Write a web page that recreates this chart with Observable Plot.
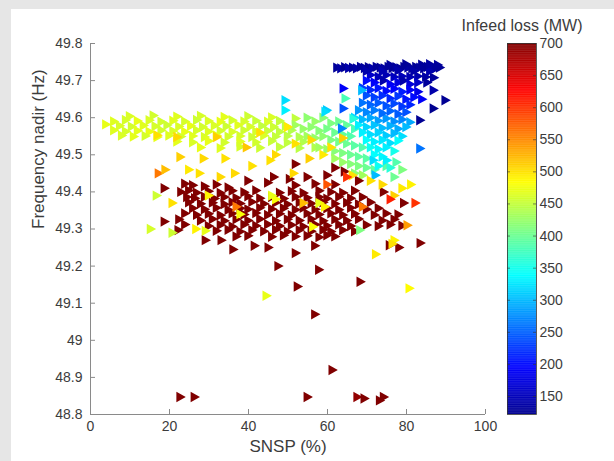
<!DOCTYPE html>
<html><head><meta charset="utf-8">
<script src="https://cdn.jsdelivr.net/npm/d3@7"></script>
<script src="https://cdn.jsdelivr.net/npm/@observablehq/plot@0.6"></script>
<style>
html,body{margin:0;padding:0;background:#e6e6e6;}
#wrap{position:relative;width:614px;height:461px;overflow:hidden;background:#e6e6e6;}
#panel{position:absolute;left:11px;top:9px;right:0;bottom:0;background:#fff;}
#wrap svg{position:absolute;left:0;top:0;}
</style></head><body><div id="wrap"><div id="panel"></div></div>
<script>
// [SNSP %, frequency nadir Hz, infeed loss MW]
const blueBand = [[62.5,49.735,130],[63.5,49.733,135],[64.5,49.736,128],[65.5,49.734,140],[66.5,49.735,130],[67.5,49.733,135],[68.5,49.737,128],[69.5,49.734,132],[70.5,49.736,125],[71.5,49.733,138],[72.5,49.737,130],[73.5,49.735,128],[74.5,49.733,135],[75.5,49.737,130],[76.5,49.734,127],[77.5,49.736,133],[78.5,49.733,130],[79.5,49.737,128],[80.5,49.735,135],[81.5,49.733,130],[82.5,49.737,127],[83.5,49.735,132],[84.5,49.733,130],[85.5,49.737,128],[86.5,49.735,135],[87.5,49.733,130],[88.5,49.735,128],[70,49.726,140],[74,49.725,145],[78,49.727,140],[82,49.726,138],[86,49.725,142],[84,49.743,130],[80,49.744,128],[76,49.742,130],[86,49.744,132],[88,49.742,130]];
const blueCluster = [[71,49.715,160],[73,49.71,150],[75,49.715,145],[77,49.71,155],[79,49.712,150],[81,49.71,145],[83,49.712,140],[85,49.71,135],[87,49.708,130],[70,49.70,200],[72,49.695,190],[74.3,49.70,140],[76,49.69,185],[78,49.695,175],[79.4,49.70,140],[81,49.69,170],[83,49.695,160],[85.3,49.695,130],[69,49.68,230],[71,49.675,215],[73,49.68,205],[75,49.672,200],[77,49.678,195],[79,49.67,210],[81,49.675,190],[83,49.67,180],[86.9,49.674,140],[70,49.66,240],[72,49.655,230],[74,49.66,220],[76,49.652,215],[78,49.658,225],[80,49.65,205],[82,49.655,200],[84,49.65,190],[89.9,49.647,125],[69,49.64,260],[71,49.635,250],[73,49.64,245],[75,49.632,240],[77,49.638,235],[79,49.63,225],[81,49.635,215],[86.9,49.625,120],[68,49.62,280],[70,49.615,270],[72,49.62,265],[74,49.612,255],[76,49.618,250],[78,49.61,245],[80,49.615,240],[83.5,49.593,125],[64.1,49.679,190],[64.1,49.625,240],[63.7,49.571,270],[64.6,49.652,380],[59.9,49.62,310],[68.8,49.674,300],[66.6,49.597,360],[49.4,49.647,320],[49.4,49.62,330],[59.5,49.616,320]];
const cyanCluster = [[67,49.60,320],[69,49.595,300],[71,49.60,290],[73,49.592,285],[75,49.598,280],[77,49.59,275],[79,49.595,270],[81,49.588,290],[68,49.58,330],[70,49.575,315],[72,49.58,305],[74,49.572,300],[76,49.578,295],[78,49.57,290],[80,49.575,300],[69,49.56,330],[71,49.555,320],[73,49.56,315],[75,49.552,310],[77,49.558,300],[79,49.55,320],[70,49.54,340],[72,49.535,330],[74,49.54,325],[76,49.532,320],[78,49.538,340],[71,49.52,345],[73,49.515,335],[75,49.52,330],[77,49.51,350],[83.5,49.517,260],[72,49.50,340],[74,49.495,335],[71.7,49.485,320],[75.1,49.485,330],[73,49.47,345],[76,49.465,360],[72.2,49.445,300]];
const greenBand = [[55,49.60,420],[57,49.59,425],[59,49.60,415],[61,49.585,410],[63,49.59,400],[65,49.58,395],[67,49.57,380],[52,49.58,430],[54,49.57,425],[56,49.575,420],[58,49.565,415],[60,49.57,405],[62,49.56,400],[64,49.555,395],[66,49.55,385],[55,49.55,430],[57,49.545,425],[59,49.55,420],[61,49.54,410],[63,49.535,405],[65,49.53,400],[67,49.525,390],[69,49.52,385],[58,49.52,430],[60,49.515,425],[62,49.51,415],[64,49.505,410],[66,49.50,400],[68,49.495,395],[70,49.49,390],[62,49.49,430],[64,49.48,425],[66,49.475,415],[68,49.47,410],[70,49.465,400],[72,49.46,395],[67,49.45,420],[69,49.445,430],[77,49.44,400],[79,49.46,410],[75,49.47,390],[77.5,49.48,385]];
const yellowBand = [[10,49.604,462],[16,49.606,458],[22,49.603,465],[28,49.605,460],[34,49.602,468],[40,49.604,455],[46,49.601,462],[52,49.598,448],[6,49.59,465],[9,49.594,460],[12,49.591,470],[15,49.593,462],[18,49.589,458],[21,49.592,466],[24,49.59,460],[27,49.594,455],[30,49.591,463],[33,49.589,470],[36,49.593,458],[39,49.59,460],[42,49.592,452],[45,49.589,462],[48,49.591,450],[4,49.582,470],[7.5,49.578,462],[10.5,49.576,458],[13.5,49.579,466],[16.5,49.577,460],[19.5,49.58,455],[22.5,49.576,463],[25.5,49.578,470],[28.5,49.575,458],[31.5,49.579,462],[34.5,49.577,455],[37.5,49.58,466],[40.5,49.576,460],[43.5,49.578,448],[46.5,49.575,455],[49.5,49.578,445],[6,49.566,465],[9,49.563,460],[12,49.565,468],[15,49.562,470],[18,49.566,458],[21,49.564,462],[24,49.562,470],[27,49.566,460],[30,49.563,465],[33,49.565,458],[36,49.562,462],[39,49.566,455],[42,49.563,460],[45,49.565,452],[48,49.562,448],[51,49.566,440],[8,49.552,462],[11,49.549,468],[14,49.551,460],[17,49.548,470],[20,49.552,465],[23,49.549,458],[26,49.551,466],[29,49.548,462],[32,49.552,470],[35,49.549,458],[38,49.551,460],[41,49.548,455],[44,49.552,462],[47,49.549,450],[50,49.551,445],[53,49.548,440],[22,49.536,468],[26,49.534,462],[30,49.537,470],[34,49.533,458],[38,49.536,465],[42,49.534,458],[46,49.537,452],[50,49.533,448],[54,49.535,440],[28,49.52,470],[33,49.518,465],[38,49.522,460],[43,49.519,455],[48,49.521,450],[53,49.518,445],[57,49.52,440]];
const redCluster = [[24,49.422,700],[26,49.418,700],[29,49.415,700],[32,49.42,700],[35,49.412,700],[45,49.425,700],[52,49.418,700],[57,49.422,700],[62,49.42,700],[23,49.40,700],[25,49.404,700],[27,49.398,700],[30,49.402,700],[33,49.397,700],[36,49.403,700],[39,49.399,700],[42,49.404,700],[48,49.398,700],[51,49.402,700],[54,49.397,700],[58,49.403,700],[61,49.4,700],[64,49.398,700],[67,49.403,700],[74.3,49.40,700],[24.5,49.386,700],[26.5,49.383,700],[29,49.387,700],[31.5,49.382,700],[34,49.386,700],[37,49.384,700],[40,49.388,700],[43,49.383,700],[46,49.386,700],[49,49.382,700],[52,49.387,700],[55,49.384,700],[58,49.386,700],[60,49.382,700],[63,49.387,700],[66,49.383,700],[69,49.386,700],[25,49.372,700],[28,49.368,700],[31,49.371,700],[34,49.367,700],[36,49.372,700],[38,49.369,700],[41,49.373,700],[44,49.368,700],[47,49.371,700],[50,49.367,700],[53,49.372,700],[56,49.369,700],[59,49.372,700],[62,49.368,700],[65,49.371,700],[68,49.367,700],[71,49.372,700],[79.4,49.37,700],[26,49.356,700],[29,49.353,700],[32,49.357,700],[35,49.352,700],[38,49.356,700],[40,49.353,700],[43,49.357,700],[46,49.354,700],[49,49.356,700],[52,49.352,700],[54,49.357,700],[57,49.353,700],[60,49.356,700],[63,49.352,700],[66,49.357,700],[70,49.353,700],[73,49.356,700],[24,49.342,700],[27,49.338,700],[30,49.341,700],[33,49.337,700],[36,49.342,700],[39,49.339,700],[42,49.343,700],[45,49.338,700],[48,49.341,700],[51,49.337,700],[55,49.342,700],[58,49.339,700],[61,49.342,700],[64,49.338,700],[67,49.341,700],[72,49.338,700],[75,49.342,700],[78,49.339,700],[22.5,49.326,700],[28,49.323,700],[31,49.327,700],[34,49.322,700],[37,49.326,700],[40,49.323,700],[43,49.327,700],[47,49.322,700],[50,49.326,700],[53,49.323,700],[56,49.327,700],[59,49.322,700],[62,49.326,700],[65,49.323,700],[68,49.327,700],[74,49.323,700],[77,49.326,700],[24,49.312,700],[30,49.308,700],[33,49.311,700],[36,49.307,700],[39,49.312,700],[42,49.309,700],[45,49.313,700],[48,49.308,700],[51,49.311,700],[54,49.307,700],[57,49.312,700],[60,49.309,700],[63,49.312,700],[66,49.308,700],[70,49.311,700],[73,49.308,700],[76,49.312,700],[79,49.309,700],[22.3,49.297,700],[32,49.295,700],[35,49.298,700],[38,49.293,700],[41,49.297,700],[44,49.294,700],[47,49.298,700],[50,49.293,700],[53,49.297,700],[56,49.294,700],[59,49.298,700],[61,49.293,700],[64,49.297,700],[67,49.294,700],[37,49.28,700],[40,49.282,700],[46,49.279,700],[49,49.283,700],[52,49.28,700],[55,49.282,700],[58,49.278,700],[60,49.283,700],[62,49.28,700]];
const redScatter = [[18.8,49.41,700],[18.8,49.32,700],[52,49.475,700],[62,49.465,700],[64.4,49.455,700],[46.5,49.44,700],[50.5,49.435,700],[55,49.44,700],[68,49.43,700],[40,49.43,700],[60,49.445,700],[29.2,49.27,700],[33.2,49.27,700],[36.2,49.245,700],[41.6,49.255,700],[45.1,49.25,700],[52,49.235,700],[56.9,49.255,700],[47.6,49.2,700],[57.9,49.19,700],[52.5,49.145,700],[68.4,49.158,700],[56.9,49.07,700],[61.3,48.92,700],[83.6,49.262,700],[75.8,49.256,700],[78.2,49.25,700],[22.8,48.847,700],[26.4,48.847,700],[55,48.847,700],[67.6,48.847,690],[69.4,48.843,700],[73.3,48.838,700],[74.3,48.847,700]];
const orangePts = [[17.3,49.45,560],[22.8,49.494,510],[28.7,49.49,505],[34.2,49.49,500],[27.7,49.45,500],[36.6,49.45,505],[39.6,49.52,515],[45.6,49.485,500],[51.5,49.45,505],[55.5,49.49,510],[66.4,49.445,500],[81.2,49.42,490],[82.3,49.37,600],[80.3,49.31,540],[72.3,49.232,495],[80.8,49.14,485],[20.8,49.29,455],[15.3,49.3,460],[26.8,49.3,490],[29.2,49.295,470],[44.6,49.12,470],[16.8,49.39,455],[20.8,49.37,500],[17,49.553,500],[22,49.548,505],[32.1,49.548,510],[43,49.56,500],[50,49.575,495],[56,49.54,505],[61,49.52,500],[64,49.545,510],[59,49.50,495],[52,49.53,500],[47,49.5,505],[41,49.47,500],[33,49.44,505],[25,49.46,495],[19,49.46,520],[71,49.43,500],[74,49.42,505],[77,49.39,510],[79,49.41,495],[77,49.27,490],[76.5,49.26,500],[69,49.36,560],[58,49.37,470],[54,49.37,520],[47,49.38,480],[30,49.39,490],[37,49.36,560],[60,49.42,580],[65,49.44,600],[76,49.38,610],[68.3,49.297,410],[59.4,49.36,490],[56.4,49.306,480],[46,49.39,470],[38,49.34,480]];

const xTicks = [0, 20, 40, 60, 80, 100];
const yTicks = [48.8, 48.9, 49, 49.1, 49.2, 49.3, 49.4, 49.5, 49.6, 49.7, 49.8];
const cbTicks = [150, 200, 250, 300, 350, 400, 450, 500, 550, 600, 650, 700];
const lossDomain = [122, 700];

const points = [...yellowBand, ...greenBand, ...cyanCluster, ...blueCluster, ...blueBand, ...redCluster, ...redScatter, ...orangePts]
  .map(([x, y, v]) => ({x, y, v}));

// MATLAB jet colormap as a piecewise linear scale
const jetT = [0, 0.125, 0.375, 0.625, 0.875, 1];
const jetColors = ["#00008f", "#0000ff", "#00ffff", "#ffff00", "#ff0000", "#800000"];
const colorOpts = {type: "linear", domain: jetT.map(t => lossDomain[0] + t * (lossDomain[1] - lossDomain[0])), range: jetColors, interpolate: "rgb", clamp: true};

const triRight = {draw(ctx, size) { const r = Math.sqrt(size / Math.PI); ctx.moveTo(r, 0); ctx.lineTo(-0.8 * r, -r); ctx.lineTo(-0.8 * r, r); ctx.closePath(); }};

const font = "'Liberation Sans', Arial, Helvetica, sans-serif";
const axisColor = "#8a8a8a";
const textColor = "#3c3c3c";

const main = Plot.plot({
  width: 614, height: 461,
  marginLeft: 90, marginRight: 129, marginTop: 43, marginBottom: 47,
  style: {background: "transparent", fontFamily: font, fontSize: "14px", color: textColor},
  x: {domain: [0, 100]},
  y: {domain: [48.8, 49.8]},
  color: colorOpts,
  marks: [
    Plot.dot(points, {x: "x", y: "y", fill: "v", r: 5.2, symbol: triRight}),
    Plot.ruleX([0], {stroke: axisColor}),
    Plot.ruleY([48.8], {stroke: axisColor}),
    Plot.tickX(xTicks, {x: d => d, insetTop: 366, stroke: axisColor}),
    Plot.tickY(yTicks, {y: d => d, insetRight: 390, stroke: axisColor}),
    Plot.axisX({ticks: xTicks, tickSize: 0, tickPadding: 7, label: null, fontSize: 14}),
    Plot.axisY({ticks: yTicks, tickSize: 0, tickPadding: 8, label: null, fontSize: 14, tickFormat: d3.format("~g")}),
    Plot.text(["SNSP (%)"], {frameAnchor: "bottom", dy: 37, fontSize: 17, fill: textColor}),
    Plot.text(["Frequency nadir (Hz)"], {frameAnchor: "left", dx: -52, rotate: -90, fontSize: 17, fill: textColor})
  ]
});

const cbSteps = d3.range(lossDomain[0], lossDomain[1], 1);
const bar = Plot.plot({
  width: 614, height: 461,
  marginLeft: 507, marginRight: 78, marginTop: 43, marginBottom: 47,
  style: {background: "transparent", fontFamily: font, fontSize: "14px", color: textColor},
  x: {domain: [0, 1], axis: null},
  y: {domain: lossDomain, axis: null},
  color: colorOpts,
  marks: [
    Plot.rect(cbSteps, {x1: 0, x2: 1, y1: d => d, y2: d => Math.min(d + 1.5, lossDomain[1]), fill: d => d + 0.5}),
    Plot.frame({stroke: "#333", strokeWidth: 0.8}),
    Plot.tickY(cbTicks, {y: d => d, insetRight: 26, stroke: "#333", strokeOpacity: 0.6}),
    Plot.tickY(cbTicks, {y: d => d, insetLeft: 26, stroke: "#333", strokeOpacity: 0.6}),
    Plot.axisY({anchor: "right", ticks: cbTicks, tickSize: 0, tickPadding: 3, label: null, fontSize: 14}),
    Plot.text(["Infeed loss (MW)"], {frameAnchor: "top", dy: -24, fontSize: 16, fill: textColor})
  ]
});

const wrap = document.getElementById("wrap");
wrap.appendChild(main);
wrap.appendChild(bar);
</script>
</body></html>
